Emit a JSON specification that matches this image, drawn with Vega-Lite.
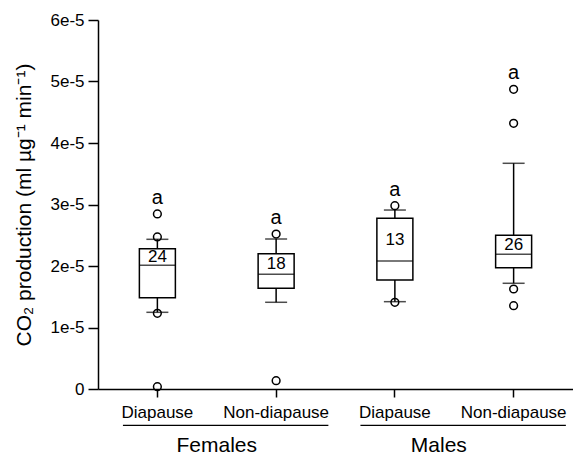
{
  "$schema": "https://vega.github.io/schema/vega-lite/v6.json",
  "width": 475,
  "height": 369,
  "autosize": {"type": "none"},
  "padding": {"left": 98, "top": 20, "right": 0, "bottom": 67},
  "background": "white",
  "config": {
    "view": {"stroke": null},
    "font": "Liberation Sans",
    "axis": {"grid": false, "domainColor": "black", "tickColor": "black", "labelColor": "black", "titleColor": "black", "domainWidth": 1.5, "tickWidth": 1.5}
  },
  "datasets": {
    "boxes": [
      {"group": "Females|Diapause", "lo": 1.247e-5, "q1": 1.485e-5, "median": 2.011e-5, "q3": 2.281e-5, "hi": 2.434e-5, "max": 2.846e-5, "n": "24", "sig": "a"},
      {"group": "Females|Non-diapause", "lo": 1.41e-5, "q1": 1.637e-5, "median": 1.865e-5, "q3": 2.2e-5, "hi": 2.439e-5, "max": 2.52e-5, "n": "18", "sig": "a"},
      {"group": "Males|Diapause", "lo": 1.42e-5, "q1": 1.772e-5, "median": 2.081e-5, "q3": 2.776e-5, "hi": 2.91e-5, "max": 2.98e-5, "n": "13", "sig": "a"},
      {"group": "Males|Non-diapause", "lo": 1.719e-5, "q1": 1.972e-5, "median": 2.19e-5, "q3": 2.499e-5, "hi": 3.67e-5, "max": 4.873e-5, "n": "26", "sig": "a"}
    ],
    "outliers": [
      {"group": "Females|Diapause", "value": 2.846e-5},
      {"group": "Females|Diapause", "value": 2.472e-5},
      {"group": "Females|Diapause", "value": 1.231e-5},
      {"group": "Females|Diapause", "value": 0.037e-5},
      {"group": "Females|Non-diapause", "value": 2.52e-5},
      {"group": "Females|Non-diapause", "value": 0.135e-5},
      {"group": "Males|Diapause", "value": 2.98e-5},
      {"group": "Males|Diapause", "value": 1.41e-5},
      {"group": "Males|Non-diapause", "value": 4.873e-5},
      {"group": "Males|Non-diapause", "value": 4.32e-5},
      {"group": "Males|Non-diapause", "value": 1.626e-5},
      {"group": "Males|Non-diapause", "value": 1.354e-5}
    ],
    "sexes": [
      {"sex": "Females", "from": "Females|Diapause", "to": "Females|Non-diapause"},
      {"sex": "Males", "from": "Males|Diapause", "to": "Males|Non-diapause"}
    ]
  },
  "data": {"name": "boxes"},
  "encoding": {
    "x": {
      "field": "group", "type": "nominal",
      "sort": ["Females|Diapause", "Females|Non-diapause", "Males|Diapause", "Males|Non-diapause"],
      "scale": {"paddingInner": 0, "paddingOuter": 0},
      "axis": {"title": null, "labelAngle": 0, "labelFontSize": 17, "tickSize": 8, "labelPadding": 7, "labelExpr": "split(datum.label, '|')[1]"}
    }
  },
  "layer": [
    {
      "mark": {"type": "rule", "color": "black", "strokeWidth": 1.5},
      "encoding": {
        "y": {"field": "lo", "type": "quantitative",
          "scale": {"domain": [0, 0.00006], "nice": false, "zero": false},
          "axis": {
            "title": "CO₂ production (ml µg⁻¹ min⁻¹)", "titleFontSize": 21, "titleFontWeight": "normal", "titlePadding": 15,
            "values": [0, 0.00001, 0.00002, 0.00003, 0.00004, 0.00005, 0.00006],
            "labelExpr": "datum.value == 0 ? '0' : round(datum.value * 100000) + 'e-5'",
            "labelFontSize": 17, "tickSize": 10, "labelPadding": 4
          }
        },
        "y2": {"field": "hi"}
      }
    },
    {
      "mark": {"type": "bar", "size": 36, "fill": "white", "stroke": "black", "strokeWidth": 1.5},
      "encoding": {"y": {"field": "q1", "type": "quantitative"}, "y2": {"field": "q3"}}
    },
    {
      "mark": {"type": "tick", "size": 36, "thickness": 1.5, "color": "black"},
      "encoding": {"y": {"field": "median", "type": "quantitative"}}
    },
    {
      "transform": [{"fold": ["lo", "hi"], "as": ["which", "cap"]}],
      "mark": {"type": "tick", "size": 22, "thickness": 1.5, "color": "black"},
      "encoding": {"y": {"field": "cap", "type": "quantitative"}}
    },
    {
      "data": {"name": "outliers"},
      "mark": {"type": "point", "shape": "circle", "filled": false, "size": 60, "stroke": "black", "strokeWidth": 1.5, "opacity": 1},
      "encoding": {"y": {"field": "value", "type": "quantitative"}}
    },
    {
      "transform": [{"fold": ["q3", "median"], "as": ["k", "v"]}],
      "mark": {"type": "text", "fontSize": 17, "baseline": "middle", "color": "black"},
      "encoding": {"y": {"aggregate": "mean", "field": "v", "type": "quantitative"}, "text": {"field": "n"}}
    },
    {
      "mark": {"type": "text", "fontSize": 20, "baseline": "alphabetic", "dy": -10, "color": "black"},
      "encoding": {"y": {"field": "max", "type": "quantitative"}, "text": {"field": "sig"}}
    },
    {
      "data": {"name": "sexes"},
      "mark": {"type": "rule", "color": "black", "strokeWidth": 1.2},
      "encoding": {
        "x": {"field": "from", "type": "nominal", "bandPosition": 0.21},
        "x2": {"field": "to", "bandPosition": 0.94},
        "y": {"datum": -0.0000059}
      }
    },
    {
      "data": {"name": "sexes"},
      "transform": [{"filter": "datum.sex == 'Females'"}],
      "mark": {"type": "text", "fontSize": 21, "baseline": "alphabetic", "color": "black"},
      "encoding": {
        "x": {"field": "from", "type": "nominal", "bandPosition": 1},
        "y": {"datum": -0.0000102},
        "text": {"field": "sex"}
      }
    },
    {
      "data": {"name": "sexes"},
      "transform": [{"filter": "datum.sex == 'Males'"}],
      "mark": {"type": "text", "fontSize": 21, "baseline": "alphabetic", "color": "black"},
      "encoding": {
        "x": {"field": "from", "type": "nominal", "bandPosition": 0.87},
        "y": {"datum": -0.0000102},
        "text": {"field": "sex"}
      }
    }
  ]
}
